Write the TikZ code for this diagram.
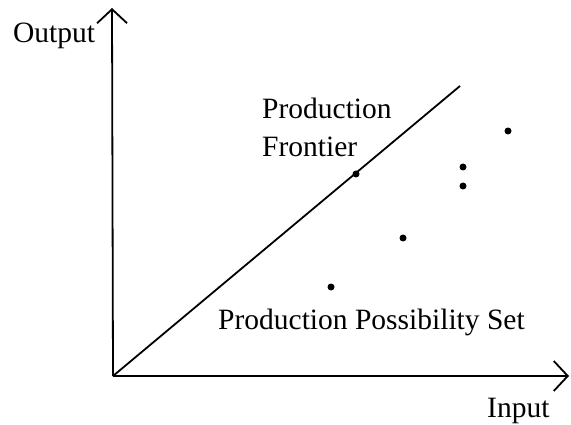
\documentclass[tikz,border=0pt]{standalone}
\usepackage{fontspec}
\setmainfont{Liberation Serif}
\usetikzlibrary{arrows.meta}
\begin{document}
\begin{tikzpicture}[x=1pt,y=-1pt,
  axis/.style={line width=1.8pt,-{Straight Barb[length=14pt,width=30pt,line width=1.8pt]}},
  frontier/.style={line width=1.8pt},
  lbl/.style={inner sep=0pt,anchor=base west,font=\fontsize{29.5}{35}\selectfont},
  dot/.style={circle,fill=black,inner sep=0pt,minimum size=7pt}]
\useasboundingbox (0,0) rectangle (571,425);
\coordinate (O) at (113,376);
\coordinate (ytop) at (112,8);
\coordinate (xend) at (569,376);
\coordinate (ftop) at (460,86);
\draw[axis] (O) -- (ytop);
\draw[axis] (O) -- (xend);
\draw[frontier] (O) -- (ftop);
\node[dot] (d1) at (356,174) {};
\node[dot] (d2) at (463,167) {};
\node[dot] (d3) at (463,186) {};
\node[dot] (d4) at (508,131) {};
\node[dot] (d5) at (403,238) {};
\node[dot] (d6) at (331,287) {};
\node[lbl] (out) at (13,43) {Output};
\node[lbl] (pf1) at (262,119) {Production};
\node[lbl] (pf2) at (262,157) {Frontier};
\node[lbl] (pps) at (218,330) {Production Possibility Set};
\node[lbl] (inp) at (487,417) {Input};
\end{tikzpicture}
\end{document}
